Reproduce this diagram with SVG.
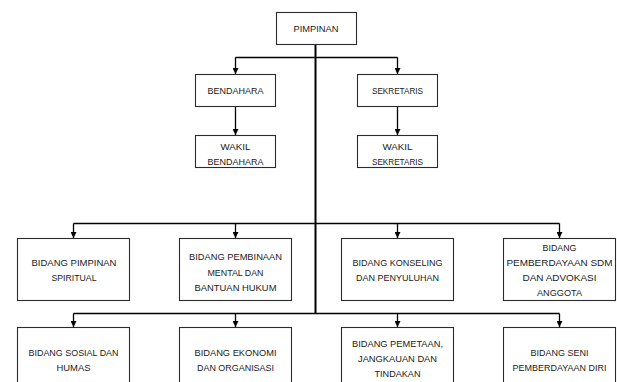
<svg xmlns="http://www.w3.org/2000/svg" width="617" height="382" viewBox="0 0 617 382">
<style>
  .box { fill: #ffffff; stroke: #2b2b2b; stroke-width: 1.1; }
  .t { font-family: "Liberation Sans", Arial, sans-serif; font-size: 9.5px; fill: #1a1a1a; text-anchor: middle; }
  .c { fill: none; stroke: #000000; stroke-width: 1.3; }
  .trunk { fill: none; stroke: #000000; stroke-width: 2; }
</style>
<defs>
  <marker id="ah" viewBox="0 0 10 10" refX="10" refY="5" markerWidth="6" markerHeight="6" markerUnits="userSpaceOnUse" orient="auto">
    <path d="M0,0 L10,5 L0,10 Z" fill="#000000"/>
  </marker>
</defs>
<rect width="617" height="382" fill="#ffffff"/>
<g id="connectors">
  <path class="trunk" d="M315.5,44 V313"/>
  <path class="c" d="M235.5,57.5 H397.5"/>
  <path class="c" d="M235.5,57.5 V74" marker-end="url(#ah)"/>
  <path class="c" d="M397.5,57.5 V74" marker-end="url(#ah)"/>
  <path class="c" d="M235.5,106 V135" marker-end="url(#ah)"/>
  <path class="c" d="M397.5,107 V135" marker-end="url(#ah)"/>
  <path class="c" d="M73.5,223.5 H559.5"/>
  <path class="c" d="M73.5,223.5 V238" marker-end="url(#ah)"/>
  <path class="c" d="M235.5,223.5 V238" marker-end="url(#ah)"/>
  <path class="c" d="M397.5,223.5 V238" marker-end="url(#ah)"/>
  <path class="c" d="M559.5,223.5 V238" marker-end="url(#ah)"/>
  <path class="c" d="M73.5,313.5 H559.5"/>
  <path class="c" d="M73.5,313.5 V327" marker-end="url(#ah)"/>
  <path class="c" d="M235.5,313.5 V327" marker-end="url(#ah)"/>
  <path class="c" d="M397.5,313.5 V327" marker-end="url(#ah)"/>
  <path class="c" d="M559.5,313.5 V327" marker-end="url(#ah)"/>
</g>
<g id="pimpinan">
  <rect class="box" x="276.5" y="12.5" width="80" height="32"/>
  <text class="t" x="316" y="31.5" textLength="45" lengthAdjust="spacingAndGlyphs">PIMPINAN</text>
</g>
<g id="bendahara">
  <rect class="box" x="195.5" y="74.5" width="80" height="32"/>
  <text class="t" x="235.5" y="93.5" textLength="56" lengthAdjust="spacingAndGlyphs">BENDAHARA</text>
</g>
<g id="sekretaris">
  <rect class="box" x="357.5" y="74.5" width="80" height="32"/>
  <text class="t" x="397.5" y="93.5" textLength="51" lengthAdjust="spacingAndGlyphs">SEKRETARIS</text>
</g>
<g id="wakil-bendahara">
  <rect class="box" x="195.5" y="135.5" width="80" height="32"/>
  <text class="t" x="235.5" y="149.5" textLength="30" lengthAdjust="spacingAndGlyphs">WAKIL</text>
  <text class="t" x="235.5" y="164.5" textLength="56" lengthAdjust="spacingAndGlyphs">BENDAHARA</text>
</g>
<g id="wakil-sekretaris">
  <rect class="box" x="357.5" y="135.5" width="80" height="32"/>
  <text class="t" x="397.5" y="149.5" textLength="30" lengthAdjust="spacingAndGlyphs">WAKIL</text>
  <text class="t" x="397.5" y="164.5" textLength="51" lengthAdjust="spacingAndGlyphs">SEKRETARIS</text>
</g>
<g id="bidang-pimpinan-spiritual">
  <rect class="box" x="17.5" y="238.5" width="112" height="62"/>
  <text class="t" x="74" y="265.5" textLength="85" lengthAdjust="spacingAndGlyphs">BIDANG PIMPINAN</text>
  <text class="t" x="74" y="280.5" textLength="45" lengthAdjust="spacingAndGlyphs">SPIRITUAL</text>
</g>
<g id="bidang-pembinaan">
  <rect class="box" x="179.5" y="238.5" width="112" height="62"/>
  <text class="t" x="235.5" y="259.5" textLength="93" lengthAdjust="spacingAndGlyphs">BIDANG PEMBINAAN</text>
  <text class="t" x="235.5" y="275.5" textLength="56" lengthAdjust="spacingAndGlyphs">MENTAL DAN</text>
  <text class="t" x="235.5" y="290.5" textLength="82" lengthAdjust="spacingAndGlyphs">BANTUAN HUKUM</text>
</g>
<g id="bidang-konseling">
  <rect class="box" x="341.5" y="238.5" width="112" height="62"/>
  <text class="t" x="397.5" y="265.5" textLength="90" lengthAdjust="spacingAndGlyphs">BIDANG KONSELING</text>
  <text class="t" x="397.5" y="280.5" textLength="83" lengthAdjust="spacingAndGlyphs">DAN PENYULUHAN</text>
</g>
<g id="bidang-pemberdayaan-sdm">
  <rect class="box" x="503.5" y="238.5" width="112" height="62"/>
  <text class="t" x="559.5" y="250.5" textLength="34" lengthAdjust="spacingAndGlyphs">BIDANG</text>
  <text class="t" x="559.5" y="266" textLength="106" lengthAdjust="spacingAndGlyphs">PEMBERDAYAAN SDM</text>
  <text class="t" x="559.5" y="281" textLength="74" lengthAdjust="spacingAndGlyphs">DAN ADVOKASI</text>
  <text class="t" x="559.5" y="296" textLength="45" lengthAdjust="spacingAndGlyphs">ANGGOTA</text>
</g>
<g id="bidang-sosial">
  <rect class="box" x="17.5" y="327.5" width="112" height="62"/>
  <text class="t" x="73.5" y="355.5" textLength="90" lengthAdjust="spacingAndGlyphs">BIDANG SOSIAL DAN</text>
  <text class="t" x="73.5" y="370.5" textLength="34" lengthAdjust="spacingAndGlyphs">HUMAS</text>
</g>
<g id="bidang-ekonomi">
  <rect class="box" x="179.5" y="327.5" width="112" height="62"/>
  <text class="t" x="235.5" y="355.5" textLength="82" lengthAdjust="spacingAndGlyphs">BIDANG EKONOMI</text>
  <text class="t" x="235.5" y="370.5" textLength="77" lengthAdjust="spacingAndGlyphs">DAN ORGANISASI</text>
</g>
<g id="bidang-pemetaan">
  <rect class="box" x="341.5" y="327.5" width="112" height="62"/>
  <text class="t" x="397.5" y="346.5" textLength="91" lengthAdjust="spacingAndGlyphs">BIDANG PEMETAAN,</text>
  <text class="t" x="397.5" y="361.5" textLength="79" lengthAdjust="spacingAndGlyphs">JANGKAUAN DAN</text>
  <text class="t" x="397.5" y="376.5" textLength="46" lengthAdjust="spacingAndGlyphs">TINDAKAN</text>
</g>
<g id="bidang-seni">
  <rect class="box" x="503.5" y="327.5" width="112" height="62"/>
  <text class="t" x="559.5" y="355.5" textLength="58" lengthAdjust="spacingAndGlyphs">BIDANG SENI</text>
  <text class="t" x="559.5" y="370.5" textLength="94" lengthAdjust="spacingAndGlyphs">PEMBERDAYAAN DIRI</text>
</g>
</svg>
